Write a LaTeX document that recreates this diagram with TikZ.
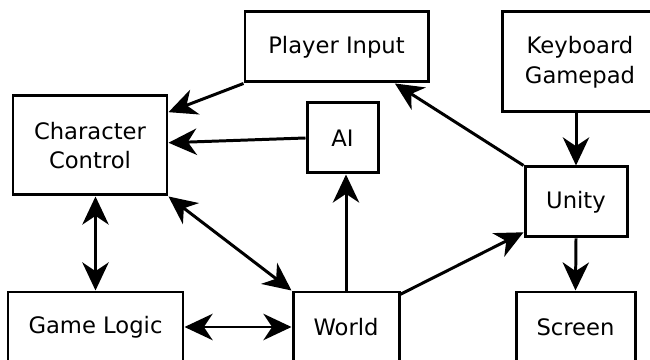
\documentclass[tikz,border=0pt]{standalone}
\usepackage{fontspec}
\setmainfont{DejaVu Sans}
\usepackage{tikz}
\usetikzlibrary{arrows.meta}

\begin{document}
\begin{tikzpicture}[
  box/.style={draw,line width=1.7pt,fill=white,align=center,inner sep=0pt,
              font=\fontsize{12.9pt}{17pt}\selectfont},
  arr/.style={-{Stealth[length=16pt,width=15pt,inset=5pt]},line width=1.7pt},
  darr/.style={{Stealth[length=16pt,width=15pt,inset=5pt]}-{Stealth[length=16pt,width=15pt,inset=5pt]},line width=1.7pt}]
  \useasboundingbox (0,0) rectangle (13,7.2);
  \clip (0,0) rectangle (13,7.2);
  \node[box,minimum width=3.66cm,minimum height=1.4cm](PI) at (6.73,6.26){Player Input};
  \node[box,minimum width=3.12cm,minimum height=2.0cm](KG) at (11.6,5.96){Keyboard\\Gamepad};
  \node[box,minimum width=1.42cm,minimum height=1.4cm](AI) at (6.85,4.44){AI};
  \node[box,minimum width=3.08cm,minimum height=1.98cm](CC) at (1.8,4.29){Character\\Control};
  \node[box,minimum width=2.04cm,minimum height=1.4cm](U) at (11.52,3.16){Unity};
  \node[box,minimum width=3.5cm,minimum height=1.4cm](GL) at (1.91,0.66){Game Logic};
  \node[box,minimum width=2.12cm,minimum height=1.4cm](W) at (6.92,0.66){World};
  \node[box,minimum width=2.38cm,minimum height=1.4cm](S) at (11.51,0.66){Screen};
  \draw[arr](PI.south west)--(CC.23); \draw[arr](AI.west)--(CC.2);
  \draw[arr](U.north west)--(PI.-32); \draw[arr](KG.south -| U.north)--(U.north);
  \draw[arr](W.north)--(W.north |- AI.south); \draw[arr](W.31)--(U.210);
  \draw[arr](U.south)--(S.north);
  \draw[darr](CC.south east)--(W.north west); \draw[darr](CC.south -| GL.north)--(GL.north);
  \draw[darr](GL.east)--(W.west);
\end{tikzpicture}
\end{document}
